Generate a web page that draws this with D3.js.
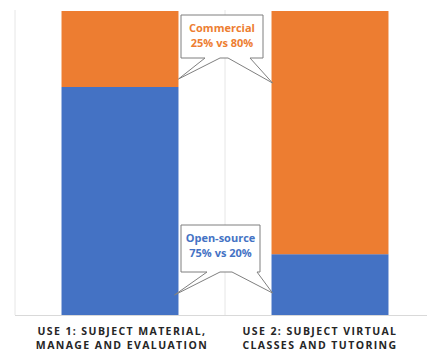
<!DOCTYPE html>
<html><head><meta charset="utf-8">
<script src="https://cdn.jsdelivr.net/npm/d3@7"></script>
<style>body{margin:0;background:#fff}svg{display:block}</style>
</head><body>
<svg id="c" width="427" height="351"></svg>
<script>
const categories = ["USE 1", "USE 2"];
const labelLines = [["USE 1: SUBJECT MATERIAL,", "MANAGE AND EVALUATION"], ["USE 2: SUBJECT VIRTUAL", "CLASSES AND TUTORING"]];
const openSource = [75, 20];
const commercial = [25, 80];
const seriesNames = ["Open-source", "Commercial"];
const calloutTexts = [["Commercial", "25% vs 80%"], ["Open-source", "75% vs 20%"]];

const colors = {"Open-source": "#4472C4", "Commercial": "#ED7D31"};
const svg = d3.select("#c");
const plot = {left: 15, right: 435, top: 11, bottom: 315};

const x = d3.scaleBand().domain(categories).range([plot.left, plot.right]).paddingInner(0).paddingOuter(0);
const barW = x.bandwidth() * 0.557;
const y = d3.scaleLinear().domain([0, 100]).range([plot.bottom, plot.top]);

// gridlines
svg.append("g").selectAll("line").data(categories.concat(["end"])).join("line")
  .attr("x1", (d, i) => plot.left + i * x.bandwidth()).attr("x2", (d, i) => plot.left + i * x.bandwidth())
  .attr("y1", plot.top - 1).attr("y2", plot.bottom)
  .attr("stroke", "#e6e6e6").attr("stroke-width", 1);

const rows = categories.map((c, i) => ({cat: c, "Open-source": openSource[i], "Commercial": commercial[i]}));
const stacked = d3.stack().keys(seriesNames)(rows);

svg.append("g").selectAll("g").data(stacked).join("g")
  .attr("fill", d => colors[d.key])
  .selectAll("rect").data(d => d).join("rect")
  .attr("x", d => x(d.data.cat) + (x.bandwidth() - barW) / 2)
  .attr("width", barW)
  .attr("y", d => y(d[1]))
  .attr("height", d => y(d[0]) - y(d[1]));

// axis line
svg.append("line").attr("x1", plot.left).attr("x2", 427).attr("y1", plot.bottom + 0.5).attr("y2", plot.bottom + 0.5)
  .attr("stroke", "#d9d9d9");

// category labels
const labelShift = [2, -10];
const lab = svg.append("g").selectAll("text").data(categories).join("text")
  .attr("text-anchor", "middle")
  .attr("font-family", "'Open Sans', sans-serif").attr("font-weight", "bold").attr("font-size", 10.5)
  .attr("fill", "#262626");
lab.each(function(d, i) {
  const cx = x(d) + x.bandwidth() / 2 + labelShift[i];
  const t = d3.select(this);
  labelLines[i].forEach((line, j) => {
    t.append("tspan").attr("x", cx).attr("y", 335 + j * 13.5).text(line)
      .attr("letter-spacing", 1.4);
  });
});

// callouts
function callout(boxX0, boxX1, boxY0, boxY1, baseL, baseR, tipL, tipR, lines, color) {
  const p = d3.path();
  p.moveTo(boxX0, boxY0);
  p.lineTo(boxX1, boxY0);
  p.lineTo(boxX1, boxY1);
  p.lineTo(baseR[1], boxY1);
  p.lineTo(tipR[0], tipR[1]);
  p.lineTo(baseR[0], boxY1);
  p.lineTo(baseL[1], boxY1);
  p.lineTo(tipL[0], tipL[1]);
  p.lineTo(baseL[0], boxY1);
  p.lineTo(boxX0, boxY1);
  p.closePath();
  svg.append("path").attr("d", p.toString()).attr("fill", "#fff").attr("stroke", "#7f7f7f").attr("stroke-width", 1);
  const cx = (boxX0 + boxX1) / 2;
  lines.forEach((l, j) => {
    svg.append("text").attr("x", cx).attr("y", boxY0 + 17 + j * 15).attr("text-anchor", "middle")
      .attr("font-family", "'Open Sans', sans-serif").attr("font-weight", "bold").attr("font-size", 11)
      .attr("fill", color).text(l);
  });
}
const b1x = x("USE 1") + (x.bandwidth() + barW) / 2;
const b2x = x("USE 2") + (x.bandwidth() - barW) / 2;
callout(181, 263, 15, 58, [205, 220], [228, 250], [b1x, y(openSource[0]) - 8], [b2x + 1, y(openSource[1] + commercial[1]) + 72],
  calloutTexts[0], colors["Commercial"]);
callout(181, 260, 225, 272, [207, 220], [232, 257], [b1x - 4, 295], [b2x + 1, 293],
  calloutTexts[1], colors["Open-source"]);
</script>
</body></html>
